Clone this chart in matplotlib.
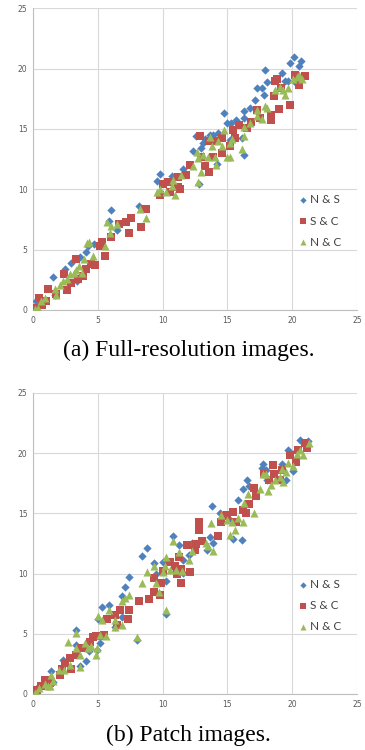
import matplotlib
matplotlib.use('Agg')
import matplotlib.pyplot as plt

# (a) Full-resolution images
full_ns_x = [0.2, 1.55, 1.7, 2.45, 2.9, 3.6, 3.4, 4.1, 4.25, 4.7, 5.9, 6.05, 6.45, 8.2, 9.55, 9.8,
             10.75, 11.55, 12.35, 12.6, 12.8, 13.0, 13.15, 13.3, 13.9, 13.65, 14.2, 14.75, 14.95,
             15.25, 15.2, 14.3, 16.1, 16.3, 16.3, 16.3, 16.75, 17.1, 17.3, 17.65, 17.8, 17.9, 18.05,
             19.2, 19.45, 19.65, 19.85, 20.15, 20.5, 20.7, 20.25, 15.7]
full_ns_y = [0.75, 2.7, 1.2, 3.4, 3.9, 4.4, 2.4, 4.8, 5.3, 5.5, 7.35, 8.25, 6.65, 8.65, 10.65, 11.25,
             11.1, 11.7, 13.2, 14.4, 10.4, 13.4, 13.8, 14.15, 14.5, 14.5, 12.1, 16.35, 15.5,
             15.5, 14.1, 14.65, 14.25, 15.9, 16.45, 12.85, 16.75, 17.4, 18.4, 18.4, 17.8, 19.85, 18.85,
             19.6, 18.95, 19.0, 20.5, 21.0, 20.2, 20.6, 18.9, 15.75]

full_sc_x = [0.13, 0.5, 0.7, 1.0, 1.15, 1.8, 2.4, 2.65, 2.95, 3.3, 3.5, 3.85, 4.1, 4.45, 4.8, 5.15,
             5.35, 5.55, 6.05, 6.65, 7.15, 7.4, 7.55, 8.3, 8.7, 9.8, 10.05, 10.45, 10.6, 11.2, 11.2,
             11.35, 11.8, 12.15, 12.9, 13.3, 13.6, 13.55, 13.9, 14.2, 14.55, 14.55, 13.0, 15.2, 15.45,
             15.55, 15.9, 16.5, 16.8, 17.3, 17.55, 18.4, 18.4, 18.6, 18.65, 18.8, 18.95, 19.15, 19.85,
             20.25, 20.55, 21.0]
full_sc_y = [0.2, 1.0, 0.45, 0.75, 1.75, 1.3, 2.95, 1.65, 2.25, 4.25, 2.55, 2.8, 3.4, 3.85, 3.75, 5.3,
             5.6, 4.5, 6.05, 7.1, 7.25, 6.4, 7.6, 6.9, 8.35, 9.55, 10.4, 10.6, 9.75, 11.05, 10.2,
             10.0, 11.2, 12.0, 14.4, 11.9, 11.4, 14.0, 12.7, 14.0, 14.25, 13.0, 12.7, 13.55, 14.95,
             14.25, 15.3, 15.1, 15.55, 16.6, 15.9, 16.15, 15.75, 17.75, 18.95, 19.1, 16.65, 18.4, 17.0,
             19.5, 18.65, 19.35]

full_nc_x = [0.13, 0.4, 0.65, 0.9, 1.7, 1.75, 2.05, 2.3, 2.6, 2.85, 3.15, 3.35, 3.55, 3.75, 3.9, 4.15,
             4.3, 4.65, 5.55, 5.7, 5.95, 6.05, 6.45, 8.25, 8.7, 9.55, 9.8, 10.3, 10.7, 10.8, 10.95,
             11.45, 12.35, 12.65, 12.7, 12.75, 13.0, 13.15, 13.5, 13.65, 13.8, 14.05, 14.15, 14.3,
             14.55, 14.75, 14.95, 15.2, 15.2, 15.35, 16.1, 16.3, 16.25, 16.75, 17.3, 17.3, 17.65,
             17.9, 18.05, 18.65, 19.05, 19.45, 19.3, 19.65, 20.1, 20.35, 20.55, 20.75]
full_nc_y = [0.05, 0.2, 0.75, 1.0, 1.7, 1.2, 2.05, 2.4, 2.55, 2.95, 3.1, 3.35, 3.65, 3.1, 4.25, 5.55,
             5.6, 4.45, 5.3, 7.25, 6.4, 6.95, 7.1, 8.4, 7.65, 9.75, 10.0, 9.75, 10.3, 10.8, 9.55,
             11.15, 11.9, 13.05, 12.6, 10.6, 11.4, 12.85, 12.7, 14.3, 13.6, 12.7, 12.05, 14.0,
             13.6, 14.95, 12.7, 12.7, 13.85, 14.15, 13.35, 14.4, 15.2, 15.5, 16.05, 16.6, 15.85,
             16.9, 16.75, 18.25, 18.45, 17.8, 18.25, 18.4, 19.15, 19.3, 19.45, 19.15]

# (b) Patch images
patch_ns_x = [0.13, 0.5, 0.9, 1.4, 1.55, 2.3, 3.3, 3.3, 3.6, 4.1, 4.35, 4.95, 5.05, 5.15, 5.3, 5.9,
              6.3, 6.85, 6.9, 7.1, 7.4, 8.05, 8.45, 8.8, 9.35, 9.5, 10.05, 10.25, 10.3, 10.8, 11.3,
              11.55, 11.55, 12.05, 12.3, 13.4, 13.65, 13.8, 13.9, 14.45, 15.2, 15.45, 15.8, 16.1,
              16.2, 16.55, 16.7, 17.65, 17.75, 17.95, 18.05, 19.2, 19.55, 19.65, 20.05, 20.6, 21.25,
              20.35]
patch_ns_y = [0.35, 0.65, 1.2, 1.9, 1.0, 2.85, 5.35, 4.1, 2.35, 2.7, 3.6, 3.65, 6.2, 4.2, 7.2, 7.4,
              5.6, 8.1, 6.4, 8.85, 9.75, 4.45, 11.5, 12.1, 10.9, 9.95, 11.0, 9.35, 6.65, 13.15, 12.4,
              10.05, 11.15, 11.55, 12.5, 11.95, 13.05, 15.65, 12.5, 15.0, 14.45, 12.85, 16.15, 12.8,
              17.05, 17.75, 17.25, 18.8, 19.1, 18.6, 17.75, 19.1, 17.75, 20.25, 18.5, 21.1, 21.0,
              20.3]

patch_sc_x = [0.0, 0.3, 0.65, 0.9, 1.3, 2.05, 2.2, 2.45, 2.85, 2.95, 3.35, 3.75, 4.0, 4.4, 4.6, 4.9,
              5.15, 5.45, 5.7, 6.3, 6.45, 6.7, 7.35, 7.4, 8.2, 8.95, 9.3, 9.35, 9.8, 9.9, 10.05,
              10.6, 10.95, 11.1, 11.3, 11.45, 11.45, 11.9, 12.15, 12.5, 12.6, 12.8, 12.8, 13.05,
              14.3, 14.5, 14.75, 15.0, 15.45, 15.7, 16.2, 16.4, 16.7, 17.05, 17.2, 17.8, 18.25, 18.5,
              18.6, 19.05, 19.2, 19.85, 20.3, 20.45, 21.0, 21.15]
patch_sc_y = [0.2, 0.35, 0.7, 1.2, 0.9, 1.6, 2.05, 2.55, 2.95, 2.05, 3.25, 3.8, 3.8, 4.35, 4.75, 4.85,
              4.8, 4.9, 6.2, 6.55, 5.75, 7.0, 6.2, 7.0, 7.75, 7.85, 8.5, 9.6, 8.25, 9.25, 10.25,
              11.0, 10.65, 10.0, 11.35, 9.25, 10.35, 12.35, 10.15, 11.95, 12.45, 13.65, 14.3, 12.7,
              13.1, 14.3, 14.75, 14.9, 15.1, 14.3, 15.25, 15.05, 15.8, 17.1, 16.45, 18.3, 17.75, 19.0,
              18.25, 17.75, 18.6, 19.85, 19.25, 20.25, 20.85, 20.4]

patch_nc_x = [0.13, 0.3, 0.5, 0.9, 1.15, 1.3, 1.4, 1.55, 2.0, 2.4, 2.7, 2.85, 3.3, 3.3, 3.6, 3.65,
              4.0, 4.25, 4.45, 4.9, 4.95, 5.05, 5.15, 5.3, 5.65, 5.9, 6.3, 6.3, 6.9, 6.85, 7.1, 7.4,
              8.05, 8.45, 8.8, 9.35, 9.5, 9.75, 10.05, 10.2, 10.3, 10.3, 10.55, 10.8, 11.05, 11.3,
              11.5, 12.05, 12.3, 13.35, 13.5, 13.75, 13.9, 14.5, 14.95, 15.2, 15.35, 15.6, 15.85,
              16.2, 16.25, 16.6, 17.05, 17.5, 17.75, 17.95, 18.1, 18.4, 18.65, 19.05, 19.25, 19.3,
              19.5, 19.65, 20.05, 20.35, 20.6, 20.8, 21.3]
patch_nc_y = [0.1, 0.0, 0.5, 0.8, 0.65, 0.7, 1.6, 1.05, 2.0, 2.0, 4.35, 2.4, 5.05, 3.8, 2.25, 3.25,
              4.2, 3.8, 3.95, 3.2, 3.8, 6.45, 4.9, 6.15, 4.85, 7.0, 6.15, 5.6, 5.75, 7.7, 7.95, 8.25,
              4.75, 9.25, 10.1, 10.6, 9.2, 8.5, 10.1, 10.65, 11.4, 7.0, 10.3, 12.7, 10.3, 11.8,
              10.25, 11.15, 11.9, 12.5, 12.3, 14.2, 11.9, 14.9, 14.45, 13.2, 14.3, 13.65, 14.65,
              14.25, 15.85, 16.65, 15.0, 17.0, 18.3, 18.25, 16.9, 17.35, 17.75, 18.05, 18.65, 17.6,
              18.4, 19.2, 18.95, 19.95, 20.3, 19.85, 20.85]

labels = ['N & S', 'S & C', 'N & C']
colors = ['#4F81BD', '#C0504D', '#9BBB59']
markers = ['D', 's', '^']
sizes = [18, 32, 34]
ticks = [0, 5, 10, 15, 20, 25]


def draw_panel(ax, series):
    for (xs, ys), lab, col, mk, sz in zip(series, labels, colors, markers, sizes):
        ax.scatter(xs, ys, s=sz, marker=mk, color=col, label=lab, linewidths=0, zorder=3)
    ax.set_xlim(0, 25)
    ax.set_ylim(0, 25)
    ax.set_xticks(ticks)
    ax.set_yticks(ticks)
    ax.grid(True, color='#d9d9d9', linewidth=0.8, zorder=0)
    ax.set_axisbelow(True)
    for side in ['top', 'right']:
        ax.spines[side].set_visible(False)
    for side in ['left', 'bottom']:
        ax.spines[side].set_color('#bfbfbf')
        ax.spines[side].set_linewidth(0.8)
    ax.tick_params(length=0, labelsize=5.5, labelcolor='#595959', pad=4)
    leg = ax.legend(loc='upper left', bbox_to_anchor=(0.783, 0.418), frameon=False,
                    handletextpad=0.1, labelspacing=0.85, handlelength=1.0,
                    prop={'family': 'Lato', 'size': 8.5}, markerscale=0.75)
    for t in leg.get_texts():
        t.set_color('#404040')


fig = plt.figure(figsize=(3.65, 7.5), dpi=100)

ax1 = fig.add_axes([0.0904, 0.5867, 0.8876, 0.4023])
draw_panel(ax1, [(full_ns_x, full_ns_y), (full_sc_x, full_sc_y), (full_nc_x, full_nc_y)])
fig.text(0.518, 0.533, '(a) Full-resolution images.', ha='center', va='center',
         family='Liberation Serif', fontsize=17)

ax2 = fig.add_axes([0.0904, 0.0747, 0.8876, 0.4013])
draw_panel(ax2, [(patch_ns_x, patch_ns_y), (patch_sc_x, patch_sc_y), (patch_nc_x, patch_nc_y)])
fig.text(0.516, 0.020, '(b) Patch images.', ha='center', va='center',
         family='Liberation Serif', fontsize=17)

fig.savefig('out.png', dpi=100)
